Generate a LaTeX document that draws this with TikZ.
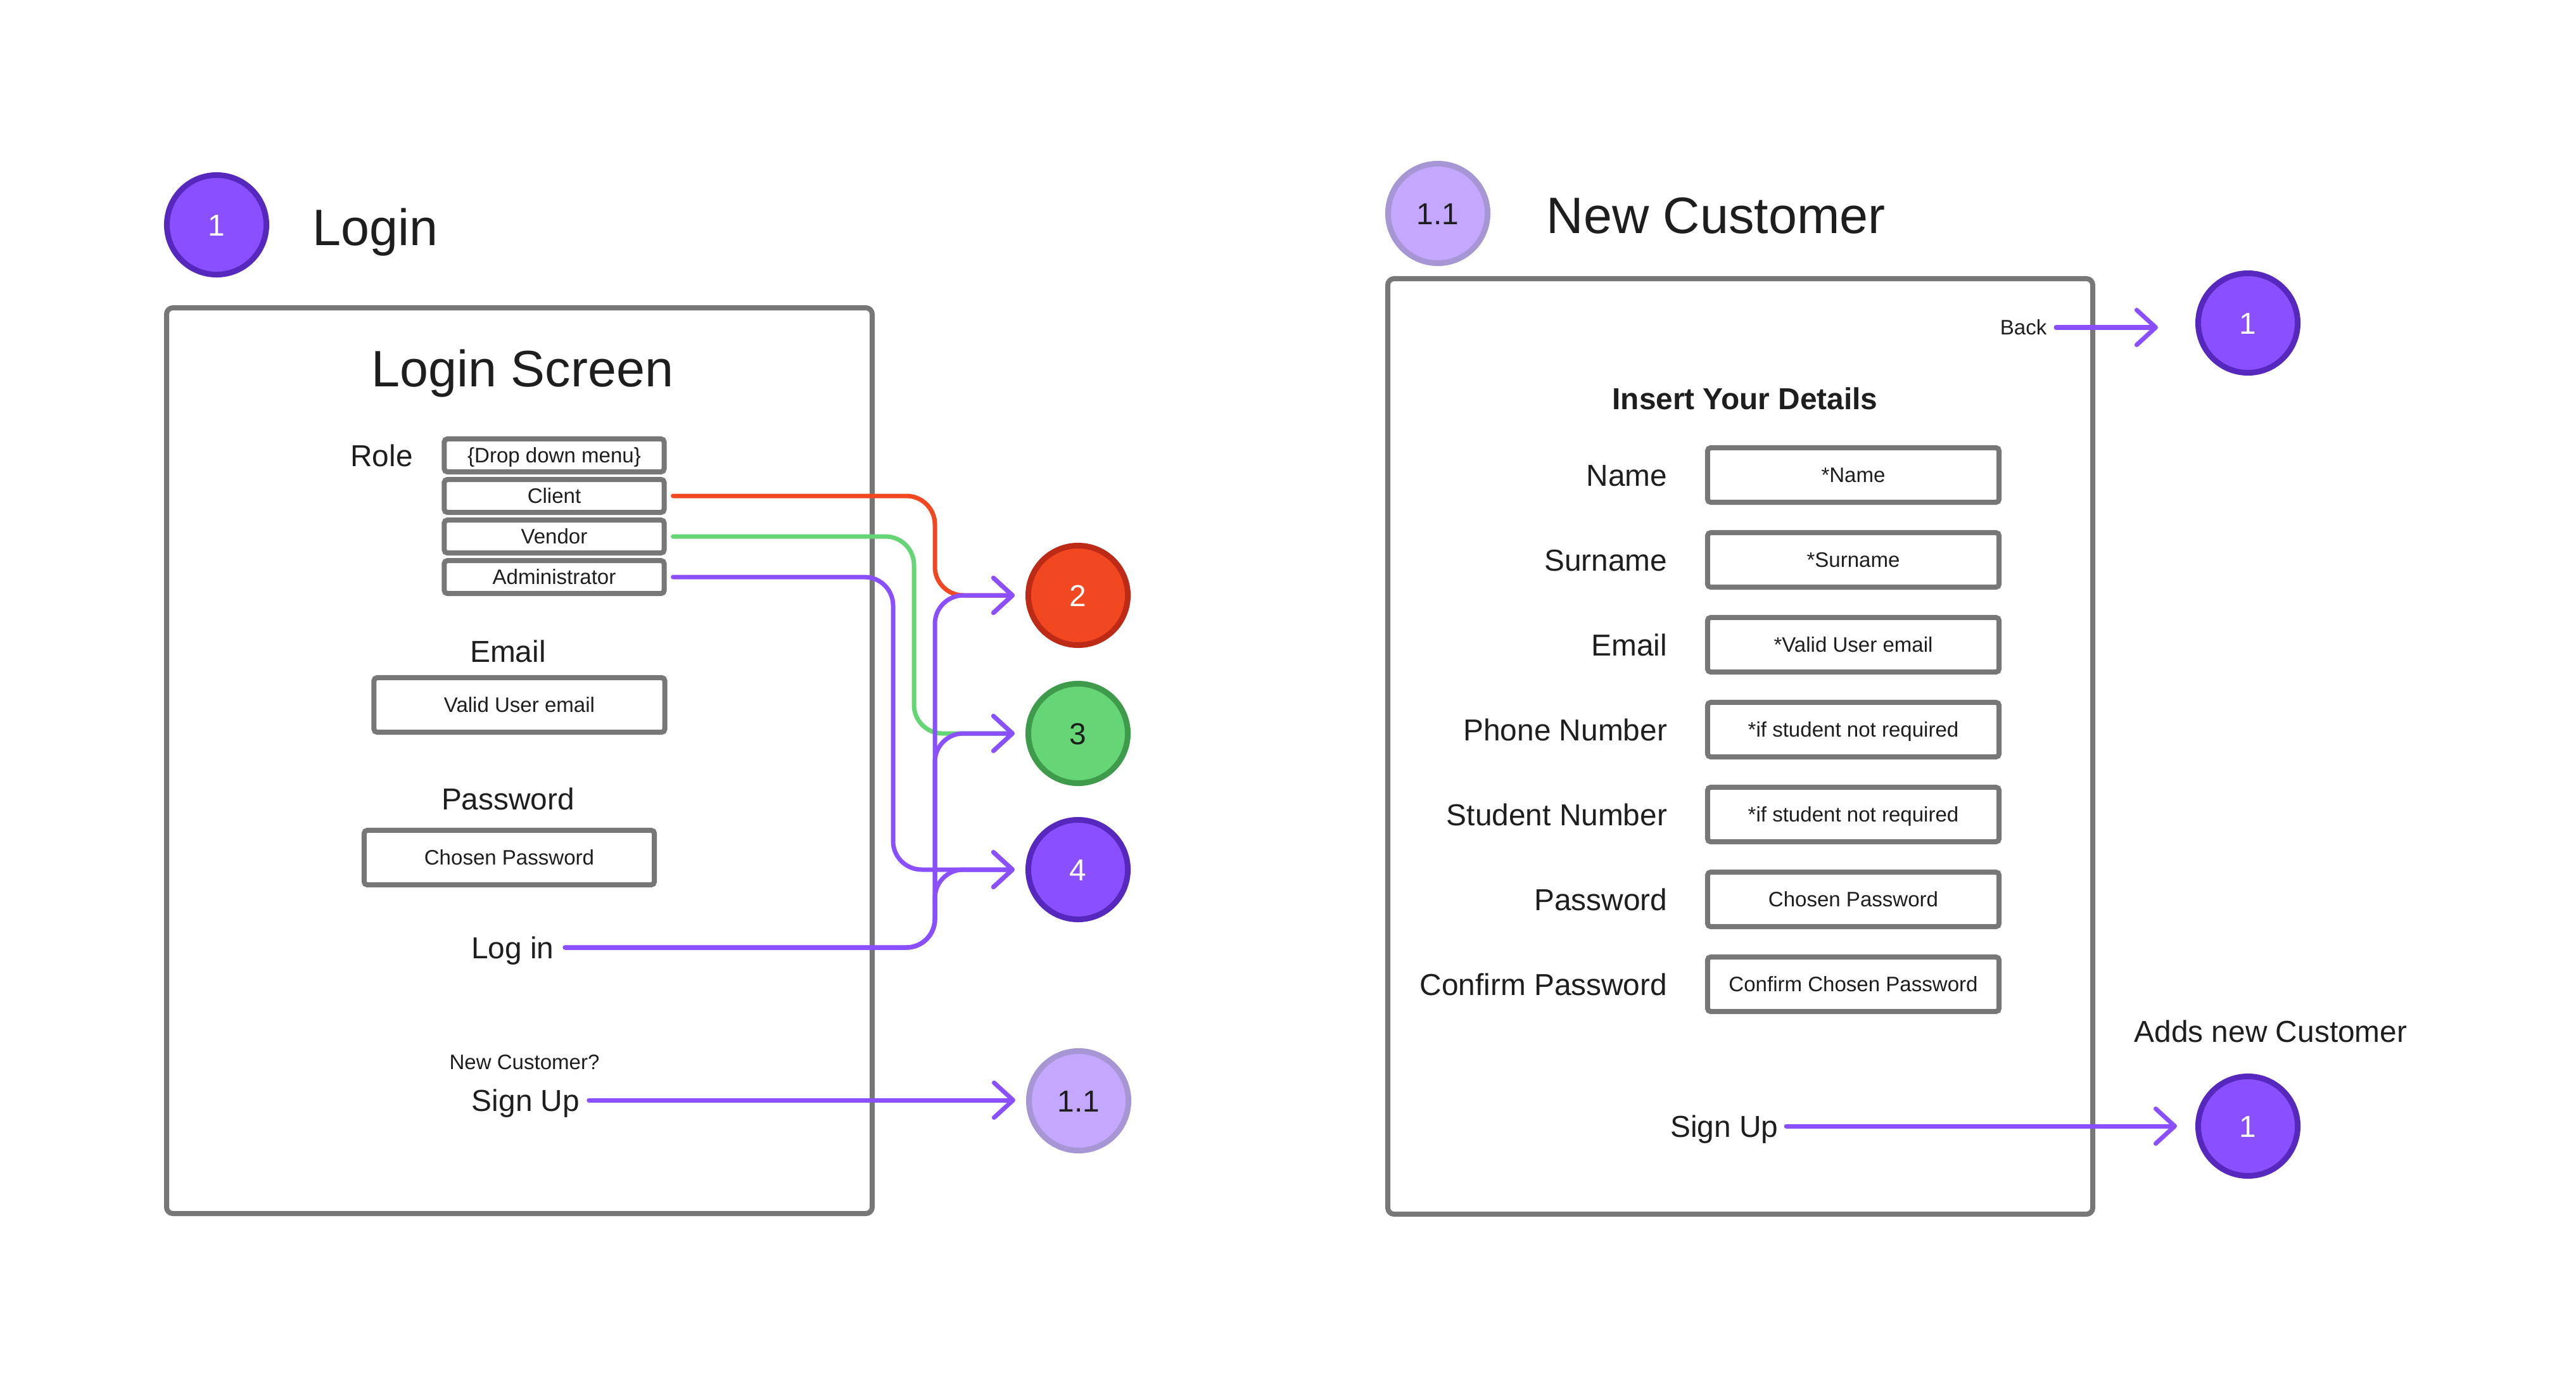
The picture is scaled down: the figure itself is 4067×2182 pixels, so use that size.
\documentclass[tikz,border=0pt]{standalone}
\usepackage{fontspec}
\setmainfont{Liberation Sans}
\usepackage{xcolor}
\usetikzlibrary{arrows.meta, positioning}
\definecolor{framegray}{HTML}{777777}
\definecolor{ink}{HTML}{1E1E1E}
\definecolor{stepviolet}{HTML}{8A4FFF}
\definecolor{stepvioletdk}{HTML}{5628BE}
\definecolor{stepred}{HTML}{F24822}
\definecolor{stepreddk}{HTML}{BD2A16}
\definecolor{stepgreen}{HTML}{66D575}
\definecolor{stepgreendk}{HTML}{3E9B4B}
\definecolor{steplilac}{HTML}{C4A7FF}
\definecolor{steplilacdk}{HTML}{A796D4}
\newcommand{\titlefont}{\fontsize{23pt}{27pt}\selectfont}
\newcommand{\lblfont}{\fontsize{13.6pt}{16pt}\selectfont}
\newcommand{\fieldfont}{\fontsize{9.4pt}{11pt}\selectfont}
\tikzset{
  screen/.style={draw=framegray, line width=0.08cm, rounded corners=0.1cm},
  title/.style={font=\titlefont, text=ink, inner sep=0pt, text height=16.5pt, text depth=0pt},
  lbl/.style={font=\lblfont, text=ink, inner sep=0pt, text height=9.8pt, text depth=0pt},
  note/.style={font=\fieldfont, text=ink, inner sep=0pt, text height=6.7pt, text depth=0pt},
  field/.style={rectangle, draw=framegray, line width=0.08cm, rounded corners=0.05cm, fill=white, font=\fieldfont, text=ink, text height=6.7pt, text depth=0pt, minimum height=0.86cm},
  option/.style={field, minimum width=3.47cm, minimum height=0.52cm},
  badge/.style={circle, line width=0.09cm, minimum size=1.57cm, inner sep=0pt, font=\lblfont, text height=9.8pt, text depth=0pt},
  vbadge/.style={badge, fill=stepviolet, draw=stepvioletdk, text=white},
  rbadge/.style={badge, fill=stepred, draw=stepreddk, text=white},
  gbadge/.style={badge, fill=stepgreen, draw=stepgreendk, text=ink},
  lbadge/.style={badge, fill=steplilac, draw=steplilacdk, text=ink},
  flow/.style={-{Straight Barb[length=0.3cm, width=0.55cm, round]}, line width=0.07cm, line cap=round, rounded corners=0.45cm},
}
\begin{document}
\begin{tikzpicture}[x=0.01cm, y=-0.01cm]
\useasboundingbox (0,0) rectangle (4067,2182);

% login screen
\node[vbadge] (s1) at (342,355) {1};
\node[title, anchor=west] (logintitle) at (493,358) {Login};
\draw[screen] (263,486) rectangle (1377,1916);
\node[title] (loginscreen) at (825,581) {Login Screen};
\node[option] (menu) at (875,719) {\{Drop down menu\}};
\node[option, below=0.04cm of menu] (client) {Client};
\node[option, below=0.04cm of client] (vendor) {Vendor};
\node[option, below=0.04cm of vendor] (admin) {Administrator};
\node[lbl, left=0.45cm of menu] (role) {Role};
\node[lbl] (emaillbl) at (802,1028) {Email};
\node[field, minimum width=4.59cm] (email) at (820,1113) {Valid User email};
\node[lbl] (pwlbl) at (802,1261) {Password};
\node[field, minimum width=4.58cm] (pw) at (804,1354) {Chosen Password};
\node[lbl, anchor=east] (login) at (875,1496) {Log in};
\node[note] (newcust) at (828,1677) {New Customer?};
\node[lbl] (signup) at (830,1737) {Sign Up};

% targets
\node[rbadge] (s2) at (1702,940) {2};
\node[gbadge] (s3) at (1702,1158) {3};
\node[vbadge] (s4) at (1702,1373) {4};
\node[lbadge] (s11) at (1703,1738) {1.1};

\coordinate (redbus) at (1476,0);
\coordinate (greenbus) at (1443,0);
\coordinate (violetbus) at (1410,0);

\draw[flow, stepred, shorten <=0.1cm, shorten >=0.17cm] (client.east) -- (client.east -| redbus) |- (s2.west);
\draw[flow, stepgreen, shorten <=0.1cm, shorten >=0.17cm] (vendor.east) -- (vendor.east -| greenbus) |- (s3.west);
\draw[flow, stepviolet, shorten <=0.1cm, shorten >=0.17cm] (admin.east) -- (admin.east -| violetbus) |- (s4.west);
\foreach \t in {s2,s3,s4}
  \draw[flow, stepviolet, shorten <=0.17cm, shorten >=0.17cm] (login.east) -- (login.east -| redbus) |- (\t.west);
\draw[flow, stepviolet, shorten <=0.14cm, shorten >=0.17cm] (signup.east) -- (signup.east -| s11.west);

% new customer screen
\node[lbadge] (h11) at (2270,337) {1.1};
\node[title, anchor=west] (newtitle) at (2441,339) {New Customer};
\draw[screen] (2191,440) rectangle (3304,1917);
\node[note, anchor=east] (back) at (3232,517) {Back};
\node[vbadge] (backto) at (3549,510) {1};
\draw[flow, stepviolet, shorten <=0.14cm, shorten >=0.59cm] (back.east) -- (back.east -| backto.west);
\node[lbl, font=\lblfont\bfseries] (details) at (2755,629) {Insert Your Details};
\foreach \lab/\hint [count=\i] in {Name/*Name, Surname/*Surname, Email/*Valid User email, Phone Number/*if student not required, Student Number/*if student not required, Password/Chosen Password, Confirm Password/Confirm Chosen Password} {
  \node[field, minimum width=4.60cm] (f\i) at (2926,616+134*\i) {\hint};
  \node[lbl, left=0.59cm of f\i] (l\i) {\lab};
}
\node[lbl] (adds) at (3585,1628) {Adds new Customer};
\node[vbadge] (done) at (3549,1778) {1};
\node[lbl, anchor=east] (signup2) at (2808,1778) {Sign Up};
\draw[flow, stepviolet, shorten <=0.12cm, shorten >=0.29cm] (signup2.east) -- (signup2.east -| done.west);
\end{tikzpicture}
\end{document}
